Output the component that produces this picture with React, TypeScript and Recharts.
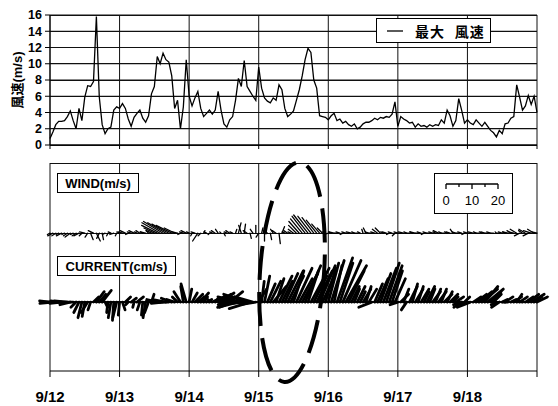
import React from 'react';
import {
  ComposedChart,
  Line,
  Scatter,
  XAxis,
  YAxis,
  CartesianGrid,
  ReferenceDot,
} from 'recharts';

// ─── Data (hourly, 9/12 00:00 → 9/19 00:00) ────────────────────────────────

const DAY_LABELS = ['9/12', '9/13', '9/14', '9/15', '9/16', '9/17', '9/18'];
const HOUR_TICKS = [0, 24, 48, 72, 96, 120, 144, 168];
const SPEED_TICKS = [0, 2, 4, 6, 8, 10, 12, 14, 16];
const SCALE_LABELS = [0, 10, 20];

// 最大風速 (m/s)
const MAX_WIND_SPEED = [
  0.8, 1.6, 2.5, 2.9, 2.9, 3.0, 3.5, 4.2, 3.0, 2.0, 4.5, 3.0, 5.9, 7.3, 7.2, 7.8, 15.8, 5.9, 2.5, 1.4, 2.0, 2.2, 4.3, 4.7,
  4.5, 5.1, 4.5, 3.2, 2.3, 3.4, 3.9, 4.3, 3.3, 2.8, 3.6, 6.3, 7.2, 10.9, 10.0, 11.3, 10.5, 10.2, 8.5, 4.5, 5.5, 2.0, 4.7, 10.5,
  6.0, 4.8, 5.8, 6.6, 4.5, 3.5, 3.9, 4.3, 3.8, 4.3, 6.6, 4.3, 2.6, 2.2, 3.1, 3.5, 5.5, 8.2, 7.2, 10.4, 7.2, 6.6, 6.0, 5.5,
  9.6, 7.0, 5.8, 5.4, 5.2, 5.8, 5.5, 7.4, 6.8, 4.5, 3.5, 3.8, 4.2, 5.5, 6.8, 8.5, 10.5, 11.9, 11.4, 8.0, 7.0, 3.6, 3.5, 3.4,
  3.1, 3.6, 3.9, 3.0, 3.2, 2.7, 2.9, 2.5, 2.3, 2.6, 2.0, 2.2, 2.6, 2.8, 2.8, 3.0, 3.3, 3.1, 3.4, 3.3, 3.5, 3.4, 3.8, 5.3,
  2.3, 3.5, 3.2, 3.0, 2.7, 2.8, 2.2, 2.6, 2.3, 2.4, 2.2, 2.5, 2.3, 2.5, 2.4, 3.1, 2.7, 4.3, 3.6, 2.3, 3.0, 5.7, 4.3, 2.7,
  3.1, 2.7, 2.5, 3.1, 2.7, 2.3, 2.8, 2.3, 1.8, 1.5, 1.0, 1.8, 1.4, 2.6, 2.7, 3.3, 3.5, 7.4, 5.9, 4.3, 4.8, 6.1, 5.0, 6.0, 4.0,
];

// WIND vector components (m/s): east, north
const WIND_U = [
  -1, -2, -1.5, -1, -2, -1, -1.5, -2, -1, -1.5, -2, -1, -2, -1, 1, -2, 1.5, -1, 0.5, -1, -0.5, -1, -1.5, -0.5,
  -1, -1.5, -2, -1, -1.5, -2, -1, -1.5, -1, -2, -1, -2, -4, -6, -7, -7.5, -7, -6.5, -6, -4, -2, -1, -1.5, -2,
  -1, -0.5, -1.5, -2, -1, 0.5, -1, -0.5, -1, -1.5, -1, -0.5, 0.5, -1, -1.5, -1, 0.5, 1, -1, 0.5, -1.5, 0.5, -1, 0,
  -1, 0.5, 0, -1, 0.5, -1, -1.5, 0.5, 1, -1, -1.5, -1, -2, -3, -4, -4.5, -5, -5.5, -5, -4.5, -4, -3, -2, -1,
  -1.5, -1, -2, -1, -1.5, -1, -1.5, -1, -2, -1, -1.5, -1, -0.5, -1, -1.5, -1, -1.5, -2, -2, -1, -1.5, -1, -1.5, -1,
  -1.5, -1, -2, -1, -1.5, -1, -2, -1, -1.5, -1, -1.5, -1, -1.5, -1, -2, -1, -1.5, -1, -1.5, -1, -1.5, -1, -1.5, -1,
  -1.5, -1, -2, -1, -1.5, -1, -1.5, -1, -1.5, -1, -0.5, -1, -1.5, -1, -2, -1.5, -2, -2.5, -2, -1.5, -2.5, -2, -3, -2.5, -2,
];
const WIND_V = [
  -0.5, -1, -1, -0.5, -1, -0.5, -1, -1.5, -0.5, -1, -1, -1, 0.5, -1.5, -2.5, 1, -3, -2, -2.5, -0.5, -1, 0.5, -0.5, -1,
  0.5, 0.5, 1, -0.5, 0.5, 1, 0.5, 1, 0.5, 0.5, 1, 1, 2, 3, 4, 4.5, 4, 3.5, 3, 2, 0.5, -0.5, 0.5, 1,
  0.5, -1, 0.5, -3, -1, 1, 0.5, -0.5, 0.5, 1, 1.5, 0.5, -1, 0.5, 1, 0.5, 1.5, 4, 3, 3.5, 1, -2, 1.5, 3,
  -1.5, 2, -3, 1, -2.5, 1.5, 1, -4, 2.5, 0.5, 1, 0.5, 1.5, 3, 4.5, 5.5, 6.5, 7, 6.5, 6, 5, 3.5, 2, 0.5,
  -0.5, 0.5, 0.5, 0, 0.5, -0.5, 0.5, 0, 0.5, 0.5, 0, 0.5, 1.5, 2, 0.5, 0, 0.5, 1.5, 2, 0.5, 0.5, -0.5, 0.5, -1,
  0.5, 0, 0.5, 0.5, 0, 0.5, 0.5, 0, 0.5, -0.5, 0.5, 0, 0.5, 0.5, 1, 0.5, 0, 0.5, 0.5, 1.5, 0.5, 0, 0.5, -0.5,
  0.5, 0, 0.5, 0.5, 0, 0.5, 0.5, 0, 0.5, 0, 0.5, 0, 0.5, 0.5, 0.5, 1, 0.5, 1.5, -1, 1, 1.5, -1, 1, 1.5, 0.5,
];

// CURRENT vector components (cm/s): east, north
const CURRENT_U = [
  -4, -5, -4, -3, -4.5, -3.5, -5, -4, -3, -2, -2, -1.5, -1, -2.5, -1, 2, 3, 2.5, 3.5, 1, -0.5, -1, -0.5, -1.5,
  -0.5, 1, 2, -1, 2, -0.5, 2.5, -1, -0.5, -1, -1.5, 1, -3, -4, -5, -4.5, -5, -3.5, -4, -3, -2, -2.5, -1, -2,
  1, 2, 3, 2.5, 3, 1.5, 2, -1, 2, 4, 5, 5, 4, -3, 5, -5, -7, -8, -9, -10, -9, -8, -7, -6,
  3, 1, 2, 3, 4, 5, 3, 5, 4, 5, 6, 5, 4, 6, 5, 6, 6, 4, 7, 5, 6, 6, 5, 4,
  4, 5, 3, 6, 5, 7, 8, 6, 3, 2, 3, 2, 3, 2, 3, -5, 3, 4, 4, 5, 5, 5, 4, 4,
  -3, 3, 2, -2, 3, 2, 3, 2, 3, 2, 3, 2, 3, 2, 3, 2, 3, 2, 3, 2, 3, -2, -3, 2,
  -4, -5, 3, 4, 5, 6, 5, 6, 4, 3, -2, -3, 2, 3, -2, 2, 3, 2, 3, -2, 3, 4, 5, 3, 4,
];
const CURRENT_V = [
  0.5, -0.5, 0, 0.5, -0.5, 0, 0.5, -1, 0, -2, -4, -6, -5.5, -4, -3, 2, 4, 3, 4.5, -2, -4, -6, -7, -6,
  -5, -3, 2, -1, 1.5, -2, 2, -3, -5, -6, -4, 3, 0.5, 1, 0.5, -0.5, 1, 0, 1.5, 1, 2, 4, 6, 7,
  5, 3.5, 3, 2, 3.5, 2, 1, 1.5, 1, 2.5, 3, 3.5, 2, -1, 4, -2, 1, -2, 2, -1, 3, -2.5, 2, -1,
  5, 8, 10, 7, 8, 6, 9, 10, 8, 11, 12, 10, 12, 13, 9, 11, 14, 12, 13, 10, 12, 14, 11, 13,
  15, 16, 14, 17, 15, 16, 14, 12, 6, 5, 6, 4, 5, 6, 5, -2, 7, 9, 11, 13, 15, 14, 12, 9,
  -1, 3, 5, -3, 6, 7, 5, 6, 5, 4, 6, 5, 4, 5, 4, 5, 3, 4, 3, 2, 2, -1, -2, 2,
  -1, -2, 2, 3, 4, 5, 6, 5, 4, 3, -1, -2, 1, 2, 0, 1, 2, 3, 2, 0.5, 2, 3, 3, 2, 2,
];

// ─── Layout constants ──────────────────────────────────────────────────────

const FONT = '"Liberation Sans", Arial, "Noto Sans CJK JP", sans-serif';
const PLOT_LEFT = 50;
const PLOT_RIGHT = 537;
const SPEED_TOP = 15; // px, upper panel plot top
const SPEED_H = 130; // px, upper panel plot height
const STICK_TOP = 163; // px, lower panel plot top (page coords)
const STICK_DOMAIN = 80; // vector panel y-range in vector units
const STICK_PLOT_H = 208; // px
const PX_PER_UNIT = STICK_PLOT_H / STICK_DOMAIN;
const WIND_LEVEL = 53;
const CURRENT_LEVEL = 26.5;

// ─── Stick (vector) mark ───────────────────────────────────────────────────

function Stick(props: any) {
  const { cx, cy, payload, width } = props;
  if (cx == null || cy == null || !payload) return null;
  return (
    <line
      x1={cx}
      y1={cy}
      x2={cx + payload.u * PX_PER_UNIT}
      y2={cy - payload.v * PX_PER_UNIT}
      stroke="#000"
      strokeWidth={width}
      strokeLinecap="round"
    />
  );
}

// horizontal guide rule behind the (transparent) chart surfaces
function Rule({ y, w = 1 }: { y: number; w?: number }) {
  return (
    <div
      style={{
        position: 'absolute',
        left: PLOT_LEFT,
        top: Math.round(y - w / 2),
        width: PLOT_RIGHT - PLOT_LEFT,
        height: Math.max(1, Math.round(w)),
        background: '#111',
      }}
    />
  );
}

const boxStyle: React.CSSProperties = {
  position: 'absolute',
  border: '1px solid #000',
  background: '#fff',
  fontFamily: FONT,
  fontSize: 13,
  fontWeight: 700,
  color: '#000',
  display: 'flex',
  alignItems: 'center',
  justifyContent: 'center',
  boxSizing: 'border-box',
};

export default function App() {
  const speedData = MAX_WIND_SPEED.map((speed, hour) => ({ hour, speed }));
  const windData = WIND_U.map((u, hour) => ({ hour, level: WIND_LEVEL, u, v: WIND_V[hour] }));
  const currentData = CURRENT_U.map((u, hour) => ({ hour, level: CURRENT_LEVEL, u, v: CURRENT_V[hour] }));
  const scaleLen = 20 * PX_PER_UNIT;
  const speedY = (t: number) => SPEED_TOP + ((16 - t) / 16) * SPEED_H;
  const stickY = (lv: number) => STICK_TOP + (STICK_DOMAIN - lv) * PX_PER_UNIT;

  return (
    <div style={{ position: 'absolute', left: 0, top: 0, width: 558, height: 406, background: '#fff', fontFamily: FONT }}>
      {/* horizontal guides (gridlines / panel top / stick baselines) */}
      {SPEED_TICKS.map((t) => (
        <Rule key={`s${t}`} y={speedY(t)} w={1} />
      ))}
      <Rule y={stickY(STICK_DOMAIN)} w={1} />
      <Rule y={stickY(WIND_LEVEL)} w={1} />
      <Rule y={stickY(CURRENT_LEVEL)} w={2} />

      {/* bottom: WIND / CURRENT stick plot */}
      <div style={{ position: 'absolute', left: 0, top: 150 }}>
        <ComposedChart width={558} height={256} margin={{ top: 13, right: 21, bottom: 0, left: 50 }}>
          <CartesianGrid horizontal={false} stroke="#111" strokeWidth={1} />
          <XAxis
            dataKey="hour"
            type="number"
            domain={[0, 168]}
            ticks={HOUR_TICKS}
            interval={0}
            height={35}
            tickSize={6}
            tickMargin={14}
            stroke="#000"
            tick={{ fill: '#000', fontSize: 15, fontWeight: 700, fontFamily: FONT }}
            tickFormatter={(h: number) => DAY_LABELS[h / 24] ?? ''}
          />
          <YAxis dataKey="level" type="number" domain={[0, STICK_DOMAIN]} hide />
          <Scatter
            data={windData}
            dataKey="level"
            isAnimationActive={false}
            shape={(p: any) => <Stick {...p} width={1.3} />}
          />
          <Scatter
            data={currentData}
            dataKey="level"
            isAnimationActive={false}
            shape={(p: any) => <Stick {...p} width={2.8} />}
          />
          <ReferenceDot
            x={83.5}
            y={38}
            ifOverflow="visible"
            shape={(p: any) => (
              <ellipse
                cx={p.cx}
                cy={p.cy}
                rx={32}
                ry={110}
                transform={`rotate(4 ${p.cx} ${p.cy})`}
                fill="none"
                stroke="#000"
                strokeWidth={4}
                strokeDasharray="34 12"
              />
            )}
          />
        </ComposedChart>
      </div>

      {/* top: 最大風速 time series */}
      <div style={{ position: 'absolute', left: 0, top: 0 }}>
        <ComposedChart width={558} height={158} margin={{ top: 15, right: 21, bottom: 8, left: 0 }}>
          <CartesianGrid stroke="#111" strokeWidth={1} />
          <XAxis
            dataKey="hour"
            type="number"
            domain={[0, 168]}
            ticks={HOUR_TICKS}
            interval={0}
            height={5}
            tickSize={4}
            stroke="#000"
            tickFormatter={() => ''}
          />
          <YAxis
            dataKey="speed"
            type="number"
            domain={[0, 16]}
            ticks={SPEED_TICKS}
            interval={0}
            width={50}
            tickSize={5}
            tickMargin={3}
            stroke="#000"
            tick={{ fill: '#000', fontSize: 12.5, fontWeight: 700, fontFamily: FONT }}
            label={{
              value: '風速(m/s)',
              angle: -90,
              position: 'center',
              dx: -8,
              style: { fill: '#000', fontSize: 13, fontWeight: 700, fontFamily: FONT },
            }}
          />
          <Line
            data={speedData}
            dataKey="speed"
            type="linear"
            stroke="#000"
            strokeWidth={1.3}
            dot={false}
            isAnimationActive={false}
          />
        </ComposedChart>
      </div>

      {/* legend of the upper panel */}
      <div style={{ ...boxStyle, left: 376, top: 18, width: 115, height: 25, fontSize: 14, justifyContent: 'flex-start' }}>
        <svg width={38} height={23}>
          <line x1={10} y1={12} x2={26} y2={12} stroke="#000" strokeWidth={1.3} />
        </svg>
        <span style={{ letterSpacing: 1, whiteSpace: 'pre' }}>最大  風速</span>
      </div>

      {/* panel labels and vector scale */}
      <div style={{ ...boxStyle, left: 57, top: 173, width: 82, height: 20 }}>WIND(m/s)</div>
      <div style={{ ...boxStyle, left: 57, top: 256, width: 119, height: 20 }}>CURRENT(cm/s)</div>
      <div style={{ ...boxStyle, left: 434, top: 173, width: 79, height: 41, fontWeight: 400 }}>
        <svg width={77} height={39}>
          <line x1={11} y1={10} x2={11 + scaleLen} y2={10} stroke="#000" strokeWidth={1.3} />
          {[0, 5, 10, 15, 20].map((t) => (
            <line
              key={t}
              x1={11 + t * PX_PER_UNIT}
              y1={10}
              x2={11 + t * PX_PER_UNIT}
              y2={t % 10 === 0 ? 15 : 13}
              stroke="#000"
              strokeWidth={1.3}
            />
          ))}
          {SCALE_LABELS.map((t) => (
            <text
              key={t}
              x={11 + t * PX_PER_UNIT}
              y={31}
              textAnchor="middle"
              fontSize={13}
              fontFamily={FONT}
              fill="#000"
            >
              {t}
            </text>
          ))}
        </svg>
      </div>
    </div>
  );
}
